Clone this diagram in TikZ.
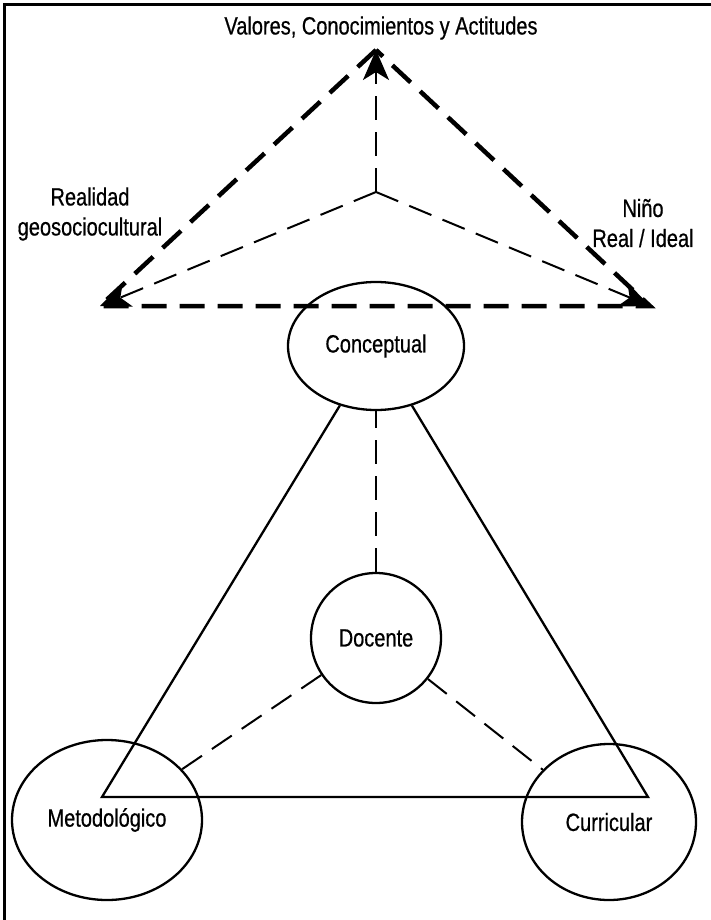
\documentclass[tikz,border=0pt]{standalone}
\usepackage{fontspec}
\setmainfont[FakeStretch=0.8, FakeBold=0.6]{Liberation Sans}
\usetikzlibrary{shapes, arrows.meta, calc, positioning}

\begin{document}
\begin{tikzpicture}[x=1pt, y=-1pt,
    bigdash/.style = {line width=4.5pt, dash pattern=on 25pt off 13pt},
    thindash/.style = {line width=2pt, dash pattern=on 24pt off 12pt},
    arr/.style = {-{Stealth[length=30pt, width=26pt, inset=8pt]}}]
    \useasboundingbox (0,0) rectangle (711,920);
    \draw[line width=3pt] (4,920) -- (4,5) -- (711,5);
    \begin{scope}[every node/.style = {font=\fontsize{25}{30}\selectfont, inner sep=0pt}]
        \node[anchor=center] (val) at (381,28) {Valores, Conocimientos y Actitudes};
        \node[anchor=center, align=center] (real) at (90,214) {Realidad\\geosociocultural};
        \node[anchor=center, align=center] (nino) at (643,223) {Niño\\Real / Ideal};
        \coordinate (T) at (376,50);
        \coordinate (L) at (100,306);
        \coordinate (R) at (650,306);
        \coordinate (M) at (376,192);
        \draw[bigdash] (T) -- (L) -- (R) -- cycle;
        \foreach \v in {T, L, R}{
            \draw[thindash, arr] (M) -- (\v);
        }
        \node[draw, ellipse, line width=2.3pt, minimum width=176pt, minimum height=128pt] (con) at (376,346) {Conceptual};
        \node[draw, circle, line width=2.3pt, minimum size=130pt] (doc) at (376,638) {Docente};
        \node[draw, ellipse, line width=2.3pt, minimum width=190pt, minimum height=160pt] (met) at (107,820) {Metodológico};
        \node[draw, ellipse, line width=2.3pt, minimum width=174pt, minimum height=156pt] (cur) at (609,822) {Curricular};
        \coordinate (BL) at (102,797);
        \coordinate (BR) at (648,797);
        \draw[line width=2.3pt] (con) -- (BL) -- (BR) -- (con);
        \foreach \n in {con, met, cur}{
            \draw[thindash] (doc) -- (\n);
        }
    \end{scope}
\end{tikzpicture}
\end{document}
